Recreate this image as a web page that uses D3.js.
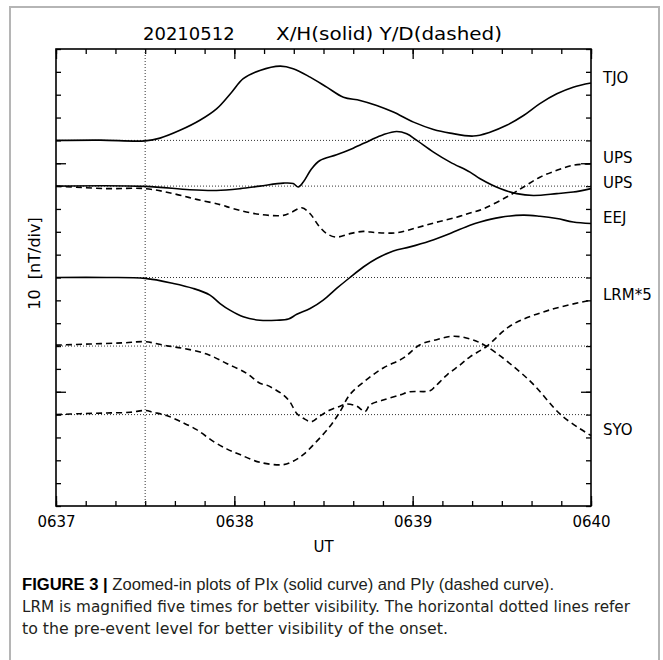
<!DOCTYPE html>
<html>
<head>
<meta charset="utf-8">
<script src="https://cdn.jsdelivr.net/npm/d3@7"></script>
<style>
body { margin: 0; background: #fff; }
text { font-family: 'DejaVu Sans', sans-serif; fill: #000; }
</style>
</head>
<body>
<div id="chart"></div>
<script>
// time = seconds after 06:37:00 UT, value = nT from the pre-event level
var tjoX = [[0,0],[15,0.1],[30,-0.2],[35,1.0],[41.7,4.4],[48.4,8.8],[54.1,13.9],[59.1,21.1],[63,27],[68.6,30.6],[75.4,32.5],[79.8,31.4],[85.5,27.7],[91.1,23.3],[96.7,18.9],[102.3,17.5],[107.9,15.3],[113.5,12.4],[120.3,8.0],[127,4.8],[132.6,3.2],[140.4,1.9],[146,3.6],[151.6,6.6],[157.3,10.9],[162.8,16.1],[168.5,20.4],[174,23.3],[180,25.1]]
var upsX = [[0,0],[30,-0.1],[45,-1.6],[54,-1.9],[62,-1.1],[68.6,0],[76.5,1.3],[79.8,1.1],[81.5,-0.4],[83.2,1.8],[86,7.6],[88.8,11.2],[94.4,13.7],[100,16.6],[105.6,20],[110.1,22.5],[114.6,23.9],[118,22.9],[121.4,20],[127,14.9],[132.6,10.5],[139.3,6.1],[142.7,3.2],[149.4,-1.1],[155,-3.3],[160.6,-4.1],[168.5,-3.3],[174,-2.6],[180,-1.1]]
var upsY = [[0,0],[17,-1.1],[30,-1.1],[39.5,-3.3],[47.3,-5.8],[55.2,-8.1],[59.7,-9.9],[68.6,-12.4],[76.5,-12.8],[79.3,-11.4],[82.7,-9.5],[85.5,-12.1],[88.3,-17.2],[91.1,-20.8],[94.4,-22.3],[98.9,-20.8],[103.4,-19.8],[107.9,-20.4],[114.6,-20.4],[121.4,-18.2],[128.1,-15.8],[134.8,-13.6],[139.3,-11.8],[143.8,-9.9],[151.6,-4.8],[157.3,-0.4],[162.8,3.9],[168.5,6.9],[174,9.1],[180,9.8]]
var eejX = [[0,0],[17,0],[30,-0.4],[39.5,-2.6],[46.2,-4.8],[51.8,-7.7],[55.2,-11.4],[58.5,-14.3],[63,-17.2],[68.6,-18.7],[74.3,-18.7],[78.2,-18.2],[81,-16.1],[85.5,-13.6],[89.9,-9.9],[94.4,-4.8],[98.9,0],[103.4,4.6],[107.9,8.3],[113.5,11.6],[119.1,13.4],[125.8,16],[132.6,19.3],[139.3,22.9],[142.7,24.3],[149.4,26.3],[157.2,27.3],[162.8,26.8],[168.5,25.8],[174,24.3],[180,23.6]]
var lrmY = [[0,0.4],[11.4,0.9],[22.6,1.4],[30,1.9],[37.2,0.1],[42.8,-1],[50.7,-3.5],[57.4,-7.6],[64.2,-12],[68.6,-16.3],[70.9,-17.1],[76.5,-21.4],[78.7,-24.4],[81,-29.5],[83.2,-31.6],[86,-33.1],[88.8,-30.6],[92.2,-28],[95.6,-26.3],[97.8,-25.4],[101.2,-26.3],[104,-28.7],[105.6,-25.8],[110.1,-23.6],[115.7,-21.4],[119.1,-20],[125.8,-19.6],[127.5,-17.8],[131.5,-12.7],[135.9,-8.3],[139.3,-4.7],[144.7,-0.3],[153.3,9.2],[166.1,15.8],[180,20.1]]
var syoY = [[0,0],[8.1,0.4],[17.1,0.7],[24.9,1],[30,1.8],[32.7,1],[37.2,-0.4],[41.7,-2.9],[47.3,-6.6],[52.9,-11.7],[57.4,-15],[61.9,-17.5],[68.6,-20.9],[76.5,-21.9],[79.8,-20.4],[83.2,-17.5],[87.7,-11.7],[92.2,-5.1],[95.6,1.4],[98.9,8.8],[104.5,15.3],[110.1,20.4],[116.9,24.8],[122.5,30.6],[128.1,32.8],[133.7,34.3],[139.3,33.1],[144.8,29.9],[159,15.3],[170.4,-0.7],[180,-9.2]]

var stations = ['TJO', 'UPS', 'UPS', 'EEJ', 'LRM*5', 'SYO']
var baselines = [160, 140, 140, 100, 70, 40]   // pre-event level of each trace, nT
var dashedSeries = [false, false, true, false, true, true]
var seriesData = [tjoX, upsX, upsY, eejX, lrmY, syoY]
var tickLabels = ['0637', '0638', '0639', '0640']
var onset = 30

var margin = { top: 49, left: 56, right: 72, bottom: 154 }
var width = 663 - margin.left - margin.right
var height = 660 - margin.top - margin.bottom

var root = d3.select('#chart').append('svg')
  .attr('width', 663)
  .attr('height', 660)

// light frame of the figure panel
root.append('rect')
  .attr('x', 10).attr('y', 7)
  .attr('width', 649).attr('height', 700)
  .attr('fill', 'none')
  .attr('stroke', '#b5b5b5')
  .attr('stroke-width', 2)

var svg = root.append('g')
  .attr('transform', 'translate(' + margin.left + ',' + margin.top + ')')

var x = d3.scaleLinear().domain([0, 180]).range([0, width])
var y = d3.scaleLinear().domain([0, 200]).range([height, 0])

var minorX = d3.range(0, 181, 10)
var majorX = [0, 60, 120, 180]
var minorY = d3.range(0, 201, 10)
var majorY = [50, 150]

function drawAxis(axis, tr) {
  var g = svg.append('g').attr('transform', tr).call(axis)
  g.select('.domain').remove()
  g.selectAll('line').attr('stroke', '#000').attr('stroke-width', 1.3)
  return g
}

drawAxis(d3.axisTop(x).tickValues(minorX).tickSize(-5).tickFormat(''), null)
drawAxis(d3.axisTop(x).tickValues(majorX).tickSize(-10).tickFormat(''), null)
drawAxis(d3.axisBottom(x).tickValues(minorX).tickSize(-5).tickFormat(''), 'translate(0,' + height + ')')
var xLab = drawAxis(d3.axisBottom(x).tickValues(majorX).tickSize(-10).tickPadding(10)
  .tickFormat(function(d, i) { return tickLabels[i] }), 'translate(0,' + height + ')')
xLab.selectAll('text').attr('font-size', 15).attr('font-family', 'DejaVu Sans')

drawAxis(d3.axisLeft(y).tickValues(minorY).tickSize(-5).tickFormat(''), null)
drawAxis(d3.axisLeft(y).tickValues(majorY).tickSize(-10).tickFormat(''), null)
drawAxis(d3.axisRight(y).tickValues(minorY).tickSize(-5).tickFormat(''), 'translate(' + width + ',0)')
drawAxis(d3.axisRight(y).tickValues(majorY).tickSize(-10).tickFormat(''), 'translate(' + width + ',0)')

// dotted pre-event levels and onset line
svg.selectAll('.base')
  .data(Array.from(new Set(baselines)))
  .enter()
  .append('line')
  .attr('x1', 0).attr('x2', width)
  .attr('y1', d => y(d)).attr('y2', d => y(d))
  .attr('stroke', '#333')
  .attr('stroke-width', 1)
  .attr('stroke-dasharray', '1,2')

svg.append('line')
  .attr('x1', x(onset)).attr('x2', x(onset))
  .attr('y1', 0).attr('y2', height)
  .attr('stroke', '#333')
  .attr('stroke-width', 1)
  .attr('stroke-dasharray', '1,2')

svg.append('rect')
  .attr('width', width).attr('height', height)
  .attr('fill', 'none')
  .attr('stroke', '#000')
  .attr('stroke-width', 1.6)

var series = seriesData.map(function(d, i) {
  return { name: stations[i], base: baselines[i], dashed: dashedSeries[i], values: d }
})

series.forEach(function(s) {
  var line = d3.line()
    .x(d => x(d[0]))
    .y(d => y(s.base + d[1]))
    .curve(d3.curveCatmullRom.alpha(0.5))

  svg.append('path')
    .datum(s.values)
    .attr('d', line)
    .attr('fill', 'none')
    .attr('stroke', '#000')
    .attr('stroke-width', 1.6)
    .attr('stroke-dasharray', s.dashed ? '6,4' : null)

  var last = s.values[s.values.length - 1]
  svg.append('text')
    .attr('x', width + 12)
    .attr('y', y(s.base + last[1]) - 5)
    .attr('dominant-baseline', 'middle')
    .attr('font-family', 'Liberation Sans')
    .attr('font-size', 15)
    .text(s.name)
})

// titles
svg.append('text').attr('x', 87).attr('y', -9).attr('font-size', 18).text('20210512')
svg.append('text').attr('x', 220).attr('y', -9).attr('font-size', 18)
  .attr('textLength', 226).attr('lengthAdjust', 'spacingAndGlyphs')
  .text('X/H(solid) Y/D(dashed)')

svg.append('text')
  .attr('x', width / 2).attr('y', height + 46)
  .attr('text-anchor', 'middle').attr('font-size', 15)
  .text('UT')

svg.append('text')
  .attr('transform', 'translate(-16,' + (height / 2 - 14) + ') rotate(-90)')
  .attr('text-anchor', 'middle').attr('font-size', 16)
  .attr('xml:space', 'preserve')
  .style('white-space', 'pre')
  .text('10  [nT/div]')

// caption
var cap = root.append('g').attr('font-family', 'Liberation Sans').attr('font-size', 16)
var l1 = cap.append('text').attr('x', 22).attr('y', 590)
  .attr('textLength', 532).attr('lengthAdjust', 'spacingAndGlyphs')
l1.append('tspan').attr('font-weight', 'bold').attr('font-family', 'Liberation Sans').text('FIGURE 3 | ')
l1.append('tspan').attr('font-family', 'Liberation Sans').style('fill', '#231f20')
  .text('Zoomed-in plots of PIx (solid curve) and PIy (dashed curve).')
cap.append('text').attr('x', 22).attr('y', 612).attr('font-family', 'Liberation Sans')
  .attr('textLength', 608).attr('lengthAdjust', 'spacingAndGlyphs').style('fill', '#231f20')
  .text('LRM is magnified five times for better visibility. The horizontal dotted lines refer')
cap.append('text').attr('x', 22).attr('y', 634).attr('font-family', 'Liberation Sans')
  .attr('textLength', 426).attr('lengthAdjust', 'spacingAndGlyphs').style('fill', '#231f20')
  .text('to the pre-event level for better visibility of the onset.')
</script>
</body>
</html>
